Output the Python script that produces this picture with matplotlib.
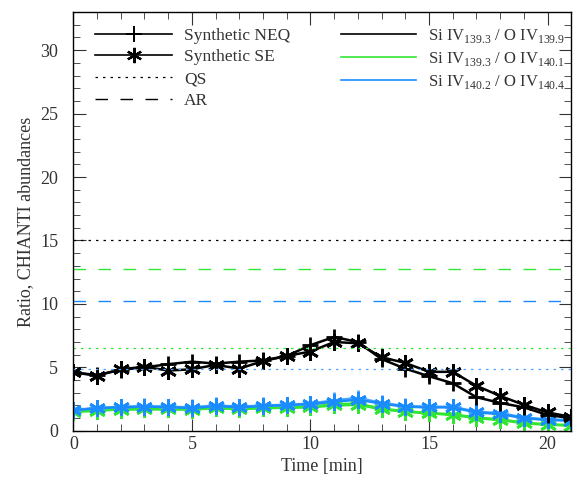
import matplotlib
matplotlib.use('Agg')
import matplotlib.pyplot as plt
from matplotlib.lines import Line2D
from matplotlib.ticker import MultipleLocator

plt.rcParams['font.family'] = ['Liberation Serif', 'DejaVu Serif']
plt.rcParams['mathtext.fontset'] = 'custom'
plt.rcParams['mathtext.rm'] = 'Liberation Serif'

# time axis [min]
time = list(range(22))

# Si IV 139.3 / O IV 139.9 (black)
blk_neq = [4.6, 4.4, 4.8, 5.0, 5.25, 5.45, 5.3, 5.45, 5.55, 5.9, 6.75, 7.4, 7.0, 5.65, 4.9, 4.3, 3.75, 2.65, 2.2, 1.85, 1.25, 1.0]
blk_se = [4.6, 4.35, 4.85, 5.05, 4.75, 4.85, 5.2, 4.9, 5.5, 5.9, 6.25, 7.0, 6.9, 5.8, 5.35, 4.65, 4.65, 3.55, 2.75, 2.05, 1.45, 1.1]
# Si IV 139.3 / O IV 140.1 (green)
grn_neq = [1.5, 1.6, 1.7, 1.72, 1.7, 1.7, 1.8, 1.75, 1.8, 1.85, 1.9, 2.1, 2.15, 1.75, 1.55, 1.4, 1.3, 1.05, 0.9, 0.65, 0.5, 0.45]
grn_se = [1.5, 1.6, 1.68, 1.7, 1.7, 1.68, 1.78, 1.72, 1.78, 1.82, 1.85, 2.0, 2.05, 1.7, 1.5, 1.38, 1.25, 1.0, 0.85, 0.6, 0.48, 0.42]
# Si IV 140.2 / O IV 140.4 (blue)
blu_neq = [1.65, 1.8, 1.9, 1.93, 1.9, 1.85, 2.0, 1.9, 2.0, 2.05, 2.15, 2.4, 2.6, 2.2, 1.95, 1.9, 1.9, 1.5, 1.4, 1.05, 0.9, 0.85]
blu_se = [1.62, 1.78, 1.86, 1.9, 1.88, 1.78, 1.96, 1.86, 1.95, 2.03, 2.1, 2.3, 2.45, 2.15, 1.9, 1.85, 1.85, 1.45, 1.32, 1.0, 0.85, 0.8]

# QS (dotted) and AR (dashed) reference ratios
qs_vals = [15.0, 6.55, 4.85]
ar_vals = [12.75, 10.25]

black = 'black'
green = '#33e633'
blue = '#1a8cff'
blue_l = '#4da6ff'

fig = plt.figure(figsize=(5.73, 4.83), dpi=100)
ax = fig.add_axes([0.128, 0.108, 0.869, 0.867])

ast = (6, 2, 0)
kw = dict(lw=1.8, ms=12, mew=2.0)

ax.plot(time, grn_neq, color=green, marker='+', **kw)
ax.plot(time, grn_se, color=green, marker=ast, **kw)
ax.plot(time, blu_neq, color=blue_l, marker='+', **kw)
ax.plot(time, blu_se, color=blue, marker=ast, **kw)
ax.plot(time, blk_neq, color=black, marker='+', **kw)
ax.plot(time, blk_se, color=black, marker=ast, **kw)

for v, c in zip(qs_vals, [black, green, blue_l]):
    ax.axhline(v, color=c, ls=(0, (2, 4)), lw=0.9)
for v, c in zip(ar_vals, [green, blue]):
    ax.axhline(v, color=c, ls=(0, (9, 9)), lw=1.0)

ax.set_xlim(0, 21)
ax.set_ylim(0, 33)
ax.xaxis.set_major_locator(MultipleLocator(5))
ax.xaxis.set_minor_locator(MultipleLocator(1))
ax.yaxis.set_major_locator(MultipleLocator(5))
ax.yaxis.set_minor_locator(MultipleLocator(1))
ax.tick_params(which='both', direction='in', top=True, right=True, labelsize=13, colors='#333333')
ax.tick_params(which='major', length=9)
ax.tick_params(which='minor', length=5)
ax.tick_params(axis='y', which='major', pad=11)
for s in ax.spines.values():
    s.set_linewidth(1.0)

ax.set_xlabel('Time [min]', fontsize=13, color='#333333')
ax.set_ylabel('Ratio, CHIANTI abundances', fontsize=13, color='#333333', labelpad=4)

h1 = [Line2D([], [], color=black, marker='+', lw=1.2, ms=11, mew=1.4),
      Line2D([], [], color=black, marker=ast, lw=1.2, ms=11, mew=1.6),
      Line2D([], [], color=black, ls=(0, (2, 4)), lw=0.9),
      Line2D([], [], color=black, ls=(0, (9, 9)), lw=1.0)]
l1 = ['Synthetic NEQ', 'Synthetic SE', 'QS', 'AR']
leg1 = ax.legend(h1, l1, loc='upper left', bbox_to_anchor=(0.02, 0.992), frameon=False,
                 fontsize=12.5, handlelength=4.4, handletextpad=0.7, labelspacing=0.32,
                 borderaxespad=0.3, labelcolor='#333333')
ax.add_artist(leg1)

h2 = [Line2D([], [], color=black, lw=1.2),
      Line2D([], [], color=green, lw=1.2),
      Line2D([], [], color=blue, lw=1.2)]
l2 = [r'Si IV$_{\mathrm{139.3}}$ / O IV$_{\mathrm{139.9}}$',
      r'Si IV$_{\mathrm{139.3}}$ / O IV$_{\mathrm{140.1}}$',
      r'Si IV$_{\mathrm{140.2}}$ / O IV$_{\mathrm{140.4}}$']
ax.legend(h2, l2, loc='upper left', bbox_to_anchor=(0.515, 0.992), frameon=False,
          fontsize=12, handlelength=4.5, handletextpad=0.7, labelspacing=0.3,
          borderaxespad=0.3, labelcolor='#333333')

fig.savefig('out.png', dpi=100)
